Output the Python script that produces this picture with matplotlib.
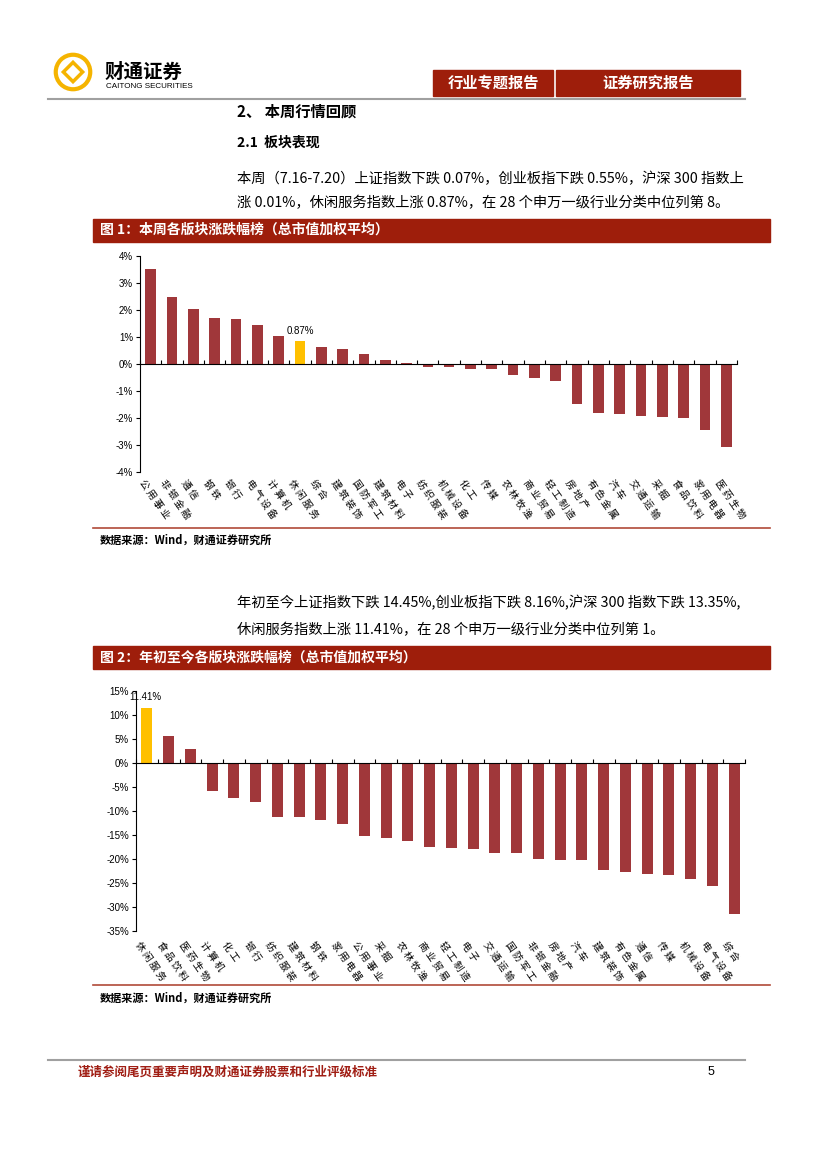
import numpy as np
import matplotlib
matplotlib.use('Agg')
import matplotlib.pyplot as plt
import matplotlib.transforms as mtransforms
from matplotlib.patches import Rectangle, Circle, Polygon
from matplotlib.lines import Line2D

plt.rcParams['font.family'] = ['Noto Sans CJK SC', 'DejaVu Sans']
plt.rcParams['axes.unicode_minus'] = False

# 图1：本周各版块涨跌幅 (%)
week_labels = ['公用事业', '非银金融', '通信', '钢铁', '银行', '电气设备', '计算机',
               '休闲服务', '综合', '建筑装饰', '国防军工', '建筑材料', '电子', '纺织服装',
               '机械设备', '化工', '传媒', '农林牧渔', '商业贸易', '轻工制造', '房地产',
               '有色金属', '汽车', '交通运输', '采掘', '食品饮料', '家用电器', '医药生物']
week_values = [3.51, 2.47, 2.05, 1.72, 1.65, 1.43, 1.05, 0.87, 0.63, 0.56, 0.36,
               0.14, 0.05, -0.10, -0.10, -0.17, -0.17, -0.41, -0.52, -0.64, -1.48,
               -1.82, -1.87, -1.94, -1.98, -2.01, -2.43, -3.09]
week_ticks = [-4, -3, -2, -1, 0, 1, 2, 3, 4]

# 图2：年初至今各版块涨跌幅 (%)
ytd_labels = ['休闲服务', '食品饮料', '医药生物', '计算机', '化工', '银行', '纺织服装',
              '建筑材料', '钢铁', '家用电器', '公用事业', '采掘', '农林牧渔', '商业贸易',
              '轻工制造', '电子', '交通运输', '国防军工', '非银金融', '房地产', '汽车',
              '建筑装饰', '有色金属', '通信', '传媒', '机械设备', '电气设备', '综合']
ytd_values = [11.41, 5.57, 2.93, -5.79, -7.36, -8.2, -11.17, -11.2, -11.86, -12.69,
              -15.2, -15.7, -16.3, -17.4, -17.65, -17.86, -18.76, -18.78, -20.07,
              -20.28, -20.3, -22.3, -22.76, -23.03, -23.4, -24.1, -25.6, -31.4]
ytd_ticks = [-35, -30, -25, -20, -15, -10, -5, 0, 5, 10, 15]

highlight = '休闲服务'

BAR = '#A0373A'
GOLD = '#FFC000'
RED = '#9E1E0B'
NUM_FONT = ['Liberation Sans Narrow', 'Liberation Sans', 'DejaVu Sans']

W, H = 827, 1170
def fx(px):
    return px / W
def fy(py):
    return 1 - py / H

fig = plt.figure(figsize=(8.27, 11.70), dpi=100)


def bar_chart(ax, labels, values, ticks, label_off, note, note_pos):
    x = np.arange(len(labels))
    colors = [GOLD if l == highlight else BAR for l in labels]
    ax.bar(x, values, width=0.5, color=colors)
    ax.set_xlim(-0.5, len(labels) - 0.5)
    ax.set_ylim(ticks[0], ticks[-1])
    ax.set_yticks(ticks)
    ax.set_yticklabels([f'{t}%' for t in ticks], fontsize=7, family=NUM_FONT)
    ax.set_xticks(np.arange(len(labels) + 1) - 0.5)
    ax.set_xticklabels([])
    ax.tick_params(axis='x', direction='in', length=3, width=0.8)
    ax.tick_params(axis='y', direction='out', length=3, width=0.8, pad=2)
    for s in ['top', 'right']:
        ax.spines[s].set_visible(False)
    ax.spines['bottom'].set_position(('data', 0))
    ax.spines['bottom'].set_linewidth(0.8)
    ax.spines['left'].set_linewidth(0.8)
    trans = mtransforms.blended_transform_factory(ax.transData, ax.transAxes)
    for i, lab in enumerate(labels):
        ax.text(i - 0.25, label_off, ' '.join(lab), transform=trans, rotation=-55,
                rotation_mode='anchor', ha='left', va='top', fontsize=7)
    ax.text(note_pos[0], note_pos[1], note, ha='center', va='bottom',
            fontsize=7, family=NUM_FONT)


# ---- header ----
logo = fig.add_axes([fx(50), fy(95), fx(46), 46 / H])
logo.set_xlim(-1, 1)
logo.set_ylim(-1, 1)
logo.set_aspect('equal')
logo.axis('off')
logo.add_patch(Circle((0, 0), 0.75, fill=False, lw=3, ec='#F5B400'))
logo.add_patch(Polygon([(0, 0.42), (0.42, 0), (0, -0.42), (-0.42, 0)],
                       fill=False, lw=2.5, ec='#F5B400'))
fig.text(fx(105), fy(72), '财通证券', fontsize=14, weight='bold', va='center')
fig.text(fx(106), fy(87), 'CAITONG SECURITIES', fontsize=5.8, va='center',
         family=['Liberation Sans', 'DejaVu Sans'])

fig.add_artist(Rectangle((fx(433), fy(96)), fx(120), 26 / H, color=RED,
                         transform=fig.transFigure))
fig.add_artist(Rectangle((fx(556), fy(96)), fx(184), 26 / H, color=RED,
                         transform=fig.transFigure))
fig.text(fx(493), fy(83), '行业专题报告', color='white', fontsize=11,
         weight='bold', ha='center', va='center')
fig.text(fx(648), fy(83), '证券研究报告', color='white', fontsize=11,
         weight='bold', ha='center', va='center')
fig.add_artist(Line2D([fx(48), fx(745)], [fy(99), fy(99)], color='#A0A0A0',
                      lw=1.5, transform=fig.transFigure))

fig.text(fx(237), fy(111), '2、 本周行情回顾', fontsize=11, weight='bold', va='center')
fig.text(fx(237), fy(143), '2.1  板块表现', fontsize=10, weight='bold', va='center')
fig.text(fx(237), fy(179), '本周（7.16-7.20）上证指数下跌 0.07%，创业板指下跌 0.55%，沪深 300 指数上',
         fontsize=10.3, va='center')
fig.text(fx(237), fy(203), '涨 0.01%，休闲服务指数上涨 0.87%，在 28 个申万一级行业分类中位列第 8。',
         fontsize=10.3, va='center')

# ---- figure 1 ----
fig.add_artist(Rectangle((fx(93), fy(242)), fx(677), 23 / H, color=RED,
                         transform=fig.transFigure))
fig.text(fx(100), fy(230), '图 1：本周各版块涨跌幅榜（总市值加权平均）', color='white',
         fontsize=10, weight='bold', va='center')

ax1 = fig.add_axes([fx(140), fy(472), fx(597), 216 / H])
bar_chart(ax1, week_labels, week_values, week_ticks, -0.025,
          '0.87%', (week_labels.index(highlight), week_values[7] + 0.15))

fig.add_artist(Line2D([fx(93), fx(770)], [fy(528), fy(528)], color='#B04A38',
                      lw=1.2, transform=fig.transFigure))
fig.text(fx(100), fy(540), '数据来源：Wind，财通证券研究所', fontsize=8,
         weight='bold', va='center')

# ---- paragraph 2 ----
fig.text(fx(237), fy(603), '年初至今上证指数下跌 14.45%,创业板指下跌 8.16%,沪深 300 指数下跌 13.35%,',
         fontsize=10.3, va='center')
fig.text(fx(237), fy(630), '休闲服务指数上涨 11.41%，在 28 个申万一级行业分类中位列第 1。',
         fontsize=10.3, va='center')

# ---- figure 2 ----
fig.add_artist(Rectangle((fx(93), fy(669)), fx(677), 23 / H, color=RED,
                         transform=fig.transFigure))
fig.text(fx(100), fy(657), '图 2：年初至今各版块涨跌幅榜（总市值加权平均）', color='white',
         fontsize=10, weight='bold', va='center')

ax2 = fig.add_axes([fx(136), fy(931), fx(609), 240 / H])
bar_chart(ax2, ytd_labels, ytd_values, ytd_ticks, -0.035,
          '11.41%', (-0.05, ytd_values[0] + 1.2))

fig.add_artist(Line2D([fx(93), fx(770)], [fy(985), fy(985)], color='#B04A38',
                      lw=1.2, transform=fig.transFigure))
fig.text(fx(100), fy(998), '数据来源：Wind，财通证券研究所', fontsize=8,
         weight='bold', va='center')

# ---- footer ----
fig.add_artist(Line2D([fx(48), fx(745)], [fy(1060), fy(1060)], color='#A0A0A0',
                      lw=1.5, transform=fig.transFigure))
fig.text(fx(78), fy(1072), '谨请参阅尾页重要声明及财通证券股票和行业评级标准', color='#A01E14',
         fontsize=9, weight='bold', va='center')
fig.text(fx(708), fy(1072), '5', fontsize=9, va='center', family=NUM_FONT)

fig.savefig('out.png', dpi=100)
